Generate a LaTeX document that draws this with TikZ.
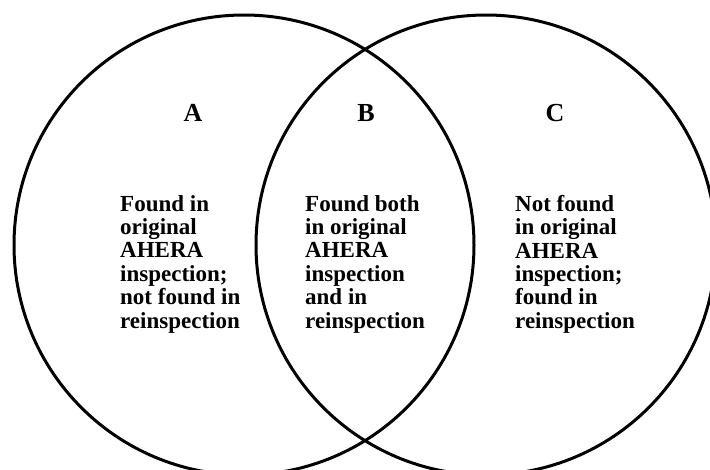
\documentclass[tikz,border=0pt]{standalone}
\usepackage{fontspec}
\setmainfont{Liberation Serif}
\usepackage{tikz}
\usetikzlibrary{positioning}
\colorlet{ink}{black}

\begin{document}
\begin{tikzpicture}[x=1pt, y=-1pt,
    region/.style={anchor=north west, align=left, inner sep=0pt,
      font=\bfseries\fontsize{23}{23.4}\selectfont},
    tag/.style={inner sep=0pt, font=\bfseries\fontsize{26}{26}\selectfont}]
      \def\R{230}
      \def\cy{245}
      \def\ax{244}
      \def\bx{486}

      \useasboundingbox (0,0) rectangle (710,469);
      \clip (0,0) rectangle (710,469);

      % The two sets
      \draw[ink, line width=3pt] (\ax,\cy) circle[radius=\R];
      \draw[ink, line width=3pt] (\bx,\cy) circle[radius=\R];

      % Region letters
      \node[tag] (tagA) at (193,113) {A};
      \node[tag] (tagB) at (366,113) {B};
      \node[tag] (tagC) at (555,113) {C};

      % Region descriptions
      \node[region] (txtA) at (120,195) {Found in\\original\\AHERA\\inspection;\\not found in\\reinspection};
      \node[region] (txtB) at (305,195) {Found both\\in original\\AHERA\\inspection\\and in\\reinspection};
      \node[region] (txtC) at (515,195) {Not found\\in original\\AHERA\\inspection;\\found in\\reinspection};
    \end{tikzpicture}
\end{document}
